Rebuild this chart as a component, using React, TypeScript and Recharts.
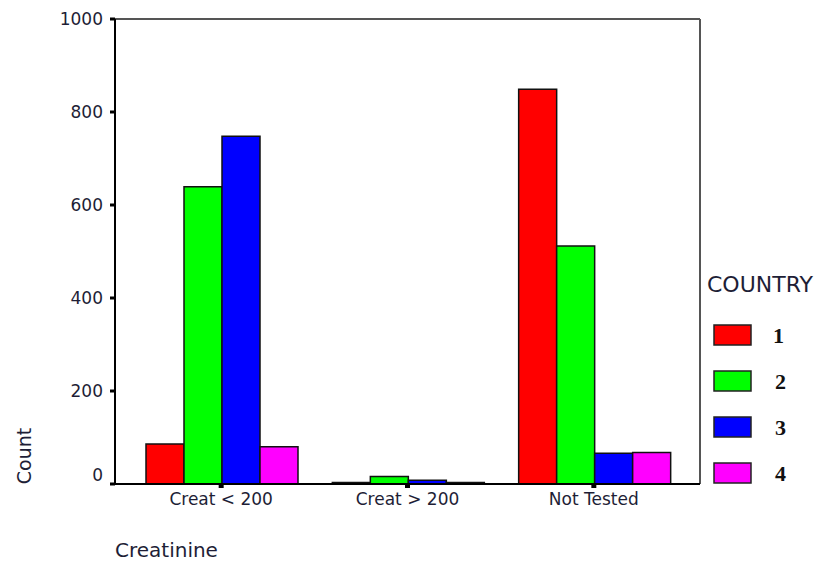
import React from 'react';
import { BarChart, Bar, XAxis, YAxis, Legend } from 'recharts';

const categories = ['Creat < 200', 'Creat > 200', 'Not Tested'];
const country1 = [86, 3, 849];
const country2 = [639, 16, 512];
const country3 = [748, 8, 66];
const country4 = [80, 3, 68];
const yTicks = [0, 200, 400, 600, 800, 1000];
const seriesNames = ['1', '2', '3', '4'];
const seriesColors = ['#ff0000', '#00ff00', '#0000ff', '#ff00ff'];

const data = categories.map((c, i) => ({
  name: c,
  c1: country1[i],
  c2: country2[i],
  c3: country3[i],
  c4: country4[i],
}));
const seriesKeys = ['c1', 'c2', 'c3', 'c4'];

const FONT = '"DejaVu Sans", Arial, sans-serif';

const YTick = (props: any) => {
  const { x, y, payload } = props;
  const dy = payload.value === 0 ? -9 : 0;
  return (
    <text x={x} y={y + dy} dy="0.36em" textAnchor="end" fontFamily={FONT} fontSize={17} fill="#1e1e36">
      {payload.value}
    </text>
  );
};

const XTick = (props: any) => {
  const { x, y, payload } = props;
  return (
    <text x={x} y={y} dy="0.75em" textAnchor="middle" fontFamily={FONT} fontSize={17} fill="#1e1e36">
      {payload.value}
    </text>
  );
};

const LegendContent = (props: any) => {
  const payload = props.payload || [];
  return (
    <svg width={131} height={240} style={{ display: 'block' }}>
      <text x={7} y={32} fontFamily={FONT} fontSize={22} fill="#1e1e36">COUNTRY</text>
      {payload.map((p: any, i: number) => (
        <g key={i}>
          <rect x={14} y={65 + i * 46} width={37} height={20} fill={p.color} stroke="#222" strokeWidth={1.5} />
          <text x={73 + (i === 0 ? 0 : 2)} y={83 + i * 46} fontFamily='"Liberation Serif", "Times New Roman", serif' fontWeight="bold" fontSize={22} fill="#111">
            {p.value}
          </text>
        </g>
      ))}
    </svg>
  );
};

export default function App() {
  return (
    <div style={{ position: 'absolute', left: 0, top: 0, width: 831, height: 563, background: '#fff' }}>
      <BarChart
        width={831}
        height={563}
        data={data}
        margin={{ top: 0, right: 0, bottom: 49, left: 0 }}
        barCategoryGap={18}
        barGap={0}
      >
        <XAxis
          xAxisId="top"
          orientation="top"
          dataKey="name"
          height={19}
          tick={false}
          tickLine={false}
          axisLine={{ stroke: '#555', strokeWidth: 2 }}
          padding={{ left: 13, right: 13 }}
        />
        <YAxis
          yAxisId="r"
          orientation="right"
          width={131}
          domain={[0, 1000]}
          tick={false}
          tickLine={false}
          axisLine={{ stroke: '#555', strokeWidth: 2 }}
        />
        <XAxis
          dataKey="name"
          height={30}
          tick={<XTick />}
          tickSize={4}
          tickMargin={4}
          tickLine={{ stroke: '#000', strokeWidth: 5 }}
          axisLine={{ stroke: '#000', strokeWidth: 2 }}
          padding={{ left: 13, right: 13 }}
          interval={0}
          label={{
            content: () => (
              <text x={115} y={557} fontFamily={FONT} fontSize={20} fill="#1e1e36">Creatinine</text>
            ),
          }}
        />
        <YAxis
          width={115}
          domain={[0, 1000]}
          ticks={yTicks}
          interval={0}
          tick={<YTick />}
          tickSize={5}
          tickMargin={7}
          tickLine={{ stroke: '#000', strokeWidth: 3 }}
          axisLine={{ stroke: '#000', strokeWidth: 2 }}
          label={{
            content: () => (
              <text x={31} y={456} transform="rotate(-90, 31, 456)" textAnchor="middle" fontFamily={FONT} fontSize={19} fill="#1e1e36">Count</text>
            ),
          }}
        />
        {seriesKeys.map((k, i) => (
          <Bar
            key={k}
            dataKey={k}
            name={seriesNames[i]}
            fill={seriesColors[i]}
            stroke="#111"
            strokeWidth={1.5}
            isAnimationActive={false}
          />
        ))}
        <Legend
          layout="vertical"
          align="center"
          verticalAlign="middle"
          content={<LegendContent />}
          wrapperStyle={{ position: 'absolute', left: 700, top: 260, width: 131, height: 240 }}
        />
      </BarChart>
    </div>
  );
}
